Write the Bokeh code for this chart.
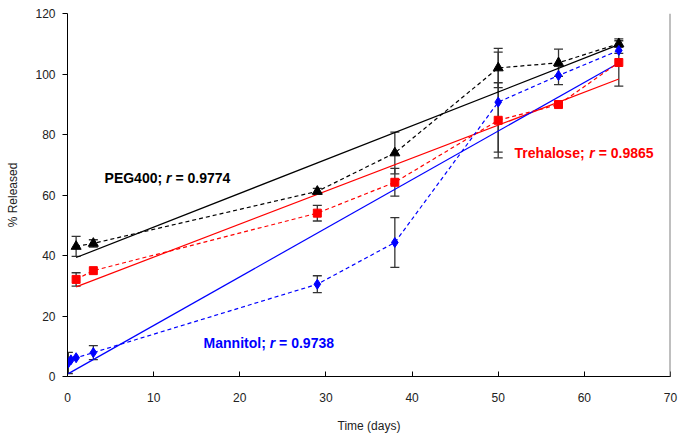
import numpy as np
from bokeh.plotting import figure
from bokeh.models import ColumnDataSource, Whisker, TeeHead, Label, Span, Range1d
from bokeh.embed import file_html
from bokeh.resources import INLINE

# ---- data ----
peg_days = [1, 3, 29, 38, 50, 57, 64]
peg_vals = [43.0, 44.0, 61.2, 73.9, 102.0, 103.7, 110.0]
peg_err = [3.3, 1.2, 1.0, 6.9, 6.5, 4.5, 1.0]

tre_days = [1, 3, 29, 38, 50, 57, 64]
tre_vals = [32.1, 35.0, 54.0, 64.2, 84.7, 89.9, 103.8]
tre_err = [2.2, 0.0, 2.6, 4.6, 12.4, 0.0, 7.8]

man_days = [0.1, 0.4, 1, 3, 29, 38, 50, 57, 64]
man_vals = [4.5, 5.5, 6.2, 7.9, 30.5, 44.3, 90.7, 99.5, 107.8]
man_err = [3.5, 0.0, 0.0, 2.3, 2.8, 8.2, 16.5, 3.0, 1.0]

x_ticks = [0, 10, 20, 30, 40, 50, 60, 70]
y_ticks = [0, 20, 40, 60, 80, 100, 120]

FONT = "Liberation Sans"

p = figure(width=680, height=437, output_backend="svg", toolbar_location=None,
           x_range=Range1d(0, 70), y_range=Range1d(0, 120),
           min_border_left=67, min_border_right=10, min_border_top=13, min_border_bottom=61)
p.xgrid.visible = False
p.ygrid.visible = False
p.outline_line_color = None
p.background_fill_color = "white"

series = [
    (peg_days, peg_vals, peg_err, "black", "triangle", 10),
    (tre_days, tre_vals, tre_err, "#FF0000", "square", 8),
    (man_days, man_vals, man_err, "#0000FF", "diamond", 10),
]

# regression lines (least-squares fit of each series)
for d, v, e, col, mk, sz in series:
    k, b = np.polyfit(d, v, 1)
    xs = [min(d), max(d)]
    p.line(xs, [k * xs[0] + b, k * xs[1] + b], line_color=col, line_width=1.2)

# dashed connecting lines
for d, v, e, col, mk, sz in series:
    p.line(d, v, line_color=col, line_width=1.2, line_dash="4 3")

# error bars
for d, v, e, col, mk, sz in series:
    dd = [x for x, er in zip(d, e) if er > 0]
    lo = [y - er for y, er in zip(v, e) if er > 0]
    hi = [y + er for y, er in zip(v, e) if er > 0]
    src = ColumnDataSource(dict(x=dd, lower=lo, upper=hi))
    w = Whisker(source=src, base="x", lower="lower", upper="upper",
                line_color="#333333", line_width=1.3,
                upper_head=TeeHead(size=9, line_color="#333333", line_width=1.3),
                lower_head=TeeHead(size=9, line_color="#333333", line_width=1.3))
    p.add_layout(w)

# markers
for d, v, e, col, mk, sz in series:
    p.scatter(d, v, marker=mk, size=sz, fill_color=col, line_color=col)

# right border line
p.add_layout(Span(location=70, dimension="height", line_color="#808080", line_width=2))

# annotations
labels = [
    (4.3, 65.5, "PEG400;", "= 0.9774", "black", 61.5),
    (51.9, 74.0, "Trehalose;", "= 0.9865", "#FF0000", 74.7),
    (15.8, 11.2, "Mannitol;", "= 0.9738", "#0000FF", 66.1),
]
for x, y, a, c, col, off in labels:
    p.add_layout(Label(x=x, y=y, text=a, text_color=col, text_font=FONT,
                       text_font_size="14px", text_font_style="bold", text_baseline="middle"))
    p.add_layout(Label(x=x, y=y, x_offset=off, text="r", text_color=col, text_font=FONT,
                       text_font_size="14px", text_font_style="bold italic", text_baseline="middle"))
    p.add_layout(Label(x=x, y=y, x_offset=off + 5.5 + 3.9, text=c, text_color=col, text_font=FONT,
                       text_font_size="14px", text_font_style="bold", text_baseline="middle"))

# axes
p.xaxis.ticker = x_ticks
p.yaxis.ticker = y_ticks
p.xaxis.axis_label = "Time (days)"
p.yaxis.axis_label = "% Released"
for ax in (p.xaxis[0], p.yaxis[0]):
    ax.axis_line_color = "black"
    ax.major_tick_line_color = "black"
    ax.minor_tick_line_color = None
    ax.major_label_text_font = FONT
    ax.major_label_text_font_size = "12px"
    ax.major_label_text_color = "#222222"
    ax.axis_label_text_font = FONT
    ax.axis_label_text_font_size = "12px"
    ax.axis_label_text_font_style = "normal"
    ax.axis_label_text_color = "#222222"
p.xaxis.major_tick_in = 5
p.xaxis.major_tick_out = 0
p.xaxis.major_label_standoff = 16
p.xaxis.axis_label_standoff = 14
p.yaxis.major_tick_in = 0
p.yaxis.major_tick_out = 5
p.yaxis.major_label_standoff = 7
p.yaxis.axis_label_standoff = 12

open("out.html", "w").write(file_html(p, INLINE))
